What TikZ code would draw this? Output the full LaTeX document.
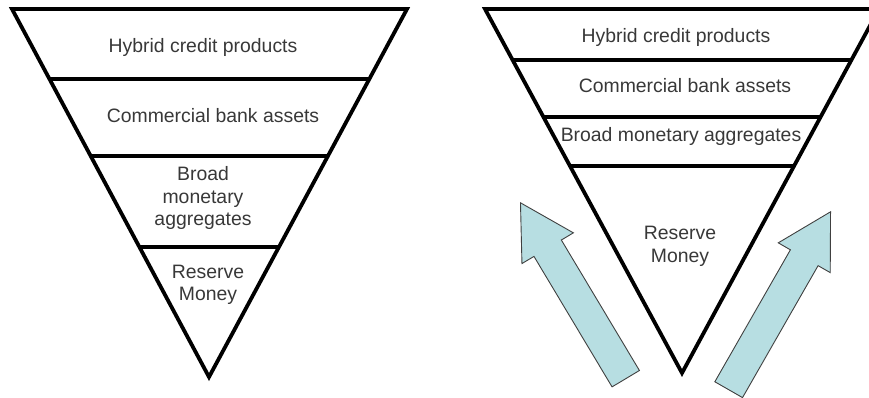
\documentclass[tikz,border=0pt]{standalone}
\usepackage{fontspec}
\setmainfont{Liberation Sans}
\usepackage{xcolor}
\usepackage{tikz}
\usetikzlibrary{shapes.arrows,calc}
\definecolor{liftfill}{RGB}{183,222,226}

\begin{document}
\begin{tikzpicture}[
    x=1pt,
    y=1pt,
    funnel/.style={
        draw,
        line width=3.8pt,
        line join=miter
    },
    layer/.style={
        align=center,
        inner sep=0pt,
        text=black!78,
        font=\fontsize{19.4}{22.5}\selectfont
    },
    lift/.style={
        single arrow,
        draw=black!75,
        fill=liftfill,
        line width=0.9pt,
        minimum height=205pt,
        single arrow head extend=14pt,
        single arrow tip angle=59,
        inner xsep=0pt,
        inner ysep=15.5pt,
        anchor=tip
    }
]

\useasboundingbox (0,0) rectangle (869,397);
\clip (0,0) rectangle (869,397);

% Left funnel
\coordinate (ltl) at (12,388);
\coordinate (ltr) at (407,388);
\coordinate (lap) at (209,20);
\draw [funnel] (ltl) -- (ltr) -- (lap) -- cycle;
\foreach \t in {0.19,0.399,0.647}
    \draw [funnel] ($(ltl)!\t!(lap)$) -- ($(ltr)!\t!(lap)$);

\node [layer] (lhybrid) at (203,350) {Hybrid credit products};
\node [layer] (lbank) at (213,281) {Commercial bank assets};
\node [layer] (lbroad) at (203,199) {Broad\\monetary\\aggregates};
\node [layer] (lreserve) at (208,112) {Reserve\\Money};

% Right funnel
\coordinate (rtl) at (485,388);
\coordinate (rtr) at (879,388);
\coordinate (rap) at (682,24);
\draw [funnel] (rtl) -- (rtr) -- (rap) -- cycle;
\foreach \t in {0.14,0.297,0.431}
    \draw [funnel] ($(rtl)!\t!(rap)$) -- ($(rtr)!\t!(rap)$);

\node [layer] (rhybrid) at (676,360) {Hybrid credit products};
\node [layer] (rbank) at (685,311) {Commercial bank assets};
\node [layer] (rbroad) at (681,261) {Broad monetary aggregates};
\node [layer] (rreserve) at (680,150.5) {Reserve\\Money};

% Arrows
\node [lift, rotate=120.9] (upleft) at (520,195) {};
\node [lift, rotate=60.2] (upright) at (831,186) {};

\end{tikzpicture}
\end{document}
